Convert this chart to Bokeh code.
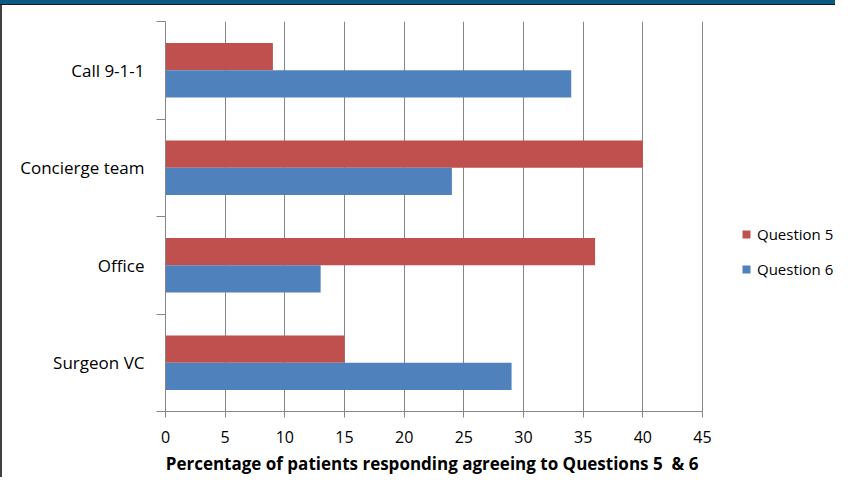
from bokeh.plotting import figure
from bokeh.models import (ColumnDataSource, Range1d, LinearAxis, FixedTicker, Legend, LegendItem)
from bokeh.transform import dodge
from bokeh.embed import file_html
from bokeh.resources import INLINE

categories = ["Call 9-1-1", "Concierge team", "Office", "Surgeon VC"]
question5 = [9, 40, 36, 15]
question6 = [34, 24, 13, 29]
x_ticks = [0, 5, 10, 15, 20, 25, 30, 35, 40, 45]
series_names = ["Question 5", "Question 6"]
x_title = "Percentage of patients responding agreeing to Questions 5  & 6"

RED = "#C0504D"
BLUE = "#4F81BD"
GRAY = "#868686"
FONT = "Open Sans"

W, H = 835, 477
LEFT, AXIS_RIGHT, TOP, BOTTOM = 165, 702, 21, 412   # pixel layout of the plot area
n = len(categories)
# first category at the top
centers = [n - i - 0.5 for i in range(n)]
bounds = list(range(n + 1))
source = ColumnDataSource(data=dict(cat=categories, y=centers, q5=question5, q6=question6))

# the frame extends to the right edge so the legend can sit inside it;
# the axis and grid are bounded to the 0..45 scale
x_end = x_ticks[-1] * (W - LEFT) / (AXIS_RIGHT - LEFT)

p = figure(width=W, height=H, output_backend="svg", toolbar_location=None,
           y_range=Range1d(0, n),
           x_range=Range1d(x_ticks[0], x_end),
           y_axis_location=None,
           min_border_left=LEFT, min_border_right=0, min_border_top=TOP,
           min_border_bottom=H - BOTTOM)
p.outline_line_color = None
p.background_fill_color = "white"
p.border_fill_alpha = 0
p.styles = {"background-color": "white",
            "box-shadow": "inset 0 4px 0 #0a5a84, inset 0 5px 0 #1a1a1a, inset 2px 0 0 #404040"}

r5 = p.hbar(y=dodge("y", 0.14), right="q5", left=0, height=0.28,
            source=source, fill_color=RED, line_color=None)
r6 = p.hbar(y=dodge("y", -0.14), right="q6", left=0, height=0.28,
            source=source, fill_color=BLUE, line_color=None)

# x axis
xa = p.xaxis[0]
xa.ticker = FixedTicker(ticks=x_ticks)
xa.bounds = (x_ticks[0], x_ticks[-1])
xa.axis_line_color = GRAY
xa.major_tick_line_color = GRAY
xa.major_tick_in = 0
xa.major_tick_out = 6
xa.minor_tick_line_color = None
xa.major_label_text_font = FONT
xa.major_label_text_font_size = "16px"
xa.major_label_text_color = "black"
xa.major_label_standoff = 13
# keep the double space visible and pad so the centred title starts at the axis origin
xa.axis_label = x_title.replace("  ", " \u00a0") + "\u00a0" * 31
xa.axis_label_text_font = FONT
xa.axis_label_text_font_size = "17px"
xa.axis_label_text_font_style = "bold"
xa.axis_label_text_color = "black"
xa.axis_label_standoff = 6

p.xgrid.ticker = FixedTicker(ticks=x_ticks)
p.xgrid.bounds = (0, n)
p.xgrid.grid_line_color = GRAY
p.xgrid.grid_line_width = 1
p.ygrid.grid_line_color = None

# category axis: labels at centres, Excel-style ticks at category boundaries
cat_axis = LinearAxis(ticker=FixedTicker(ticks=centers, minor_ticks=bounds),
                      major_label_overrides={c: lab for c, lab in zip(centers, categories)},
                      axis_line_color=GRAY, major_tick_line_color=None,
                      minor_tick_line_color=GRAY, minor_tick_in=0, minor_tick_out=9,
                      major_tick_in=0, major_tick_out=0,
                      major_label_text_font=FONT, major_label_text_font_size="17px",
                      major_label_text_color="black", major_label_standoff=12)
p.add_layout(cat_axis, "left")

legend = Legend(items=[LegendItem(label=series_names[0], renderers=[r5]),
                       LegendItem(label=series_names[1], renderers=[r6])],
                location=(741 - LEFT, 132), orientation="vertical",
                glyph_width=10, glyph_height=10, label_standoff=6, spacing=15,
                label_height=20, padding=0, margin=0,
                border_line_color=None, background_fill_alpha=0,
                label_text_font=FONT, label_text_font_size="15px", label_text_color="black")
p.add_layout(legend, "center")

open("out.html", "w").write(file_html(p, INLINE))
